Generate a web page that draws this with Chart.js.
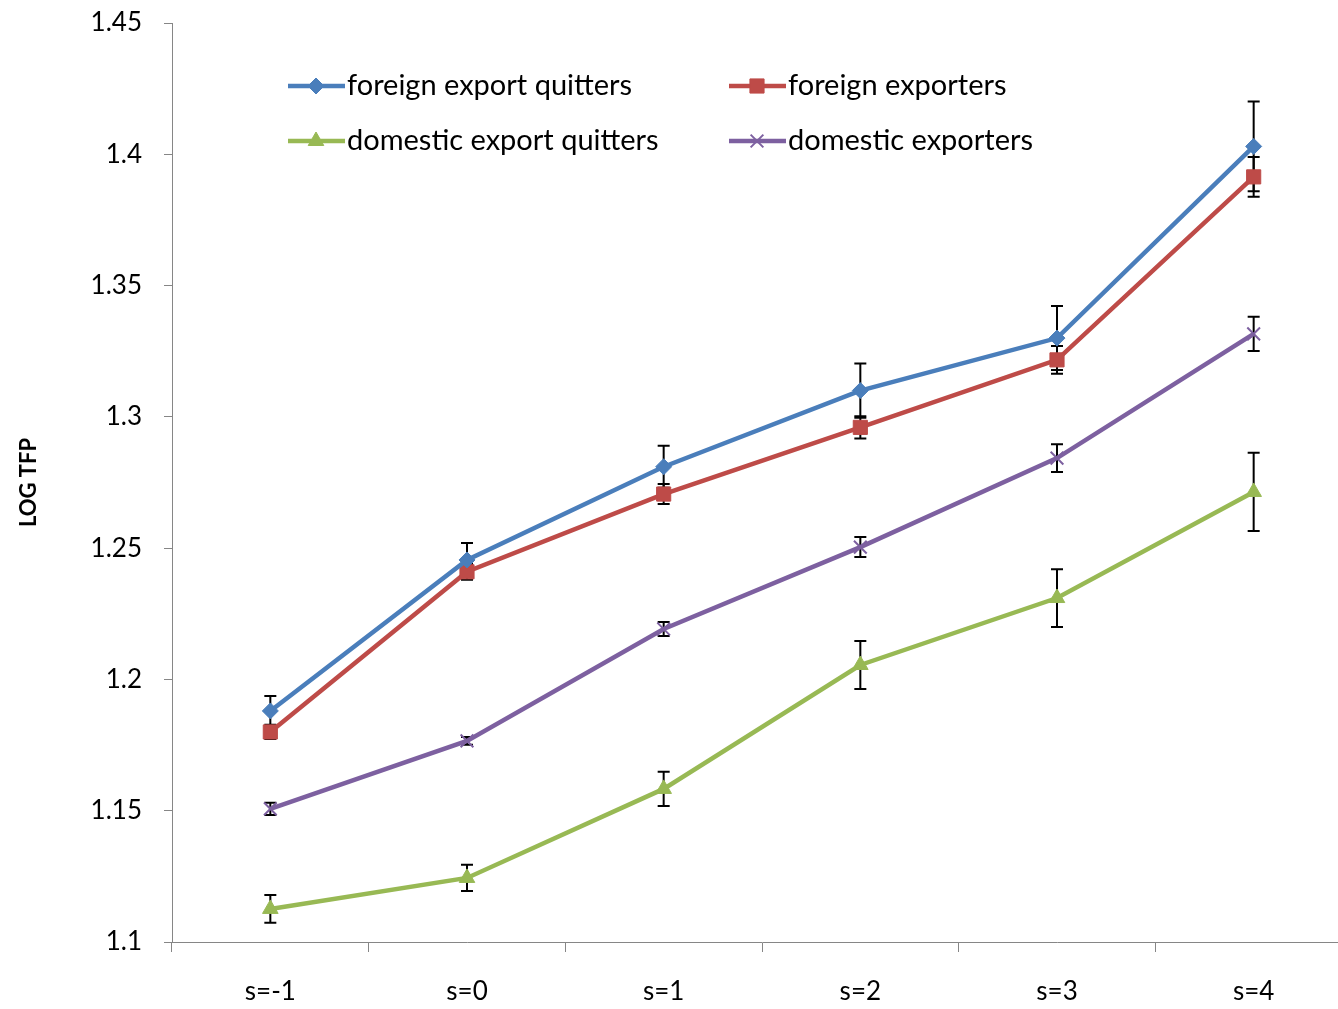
<!DOCTYPE html>
<html>
<head>
<meta charset="utf-8">
<script src="https://cdn.jsdelivr.net/npm/chart.js@4.4.0/dist/chart.umd.min.js"></script>
<style>
  html, body { margin: 0; padding: 0; background: #fff; overflow: hidden; }
  #wrap { width: 1338px; height: 1009px; overflow: hidden; }
  #myChart { display: block; }
</style>
</head>
<body>
<div id="wrap"><canvas id="myChart" width="1352" height="1009"></canvas></div>
<script>
// categories and values
var periods = ["s=-1", "s=0", "s=1", "s=2", "s=3", "s=4"];

var foreignQuitters = [1.188, 1.2455, 1.281, 1.310, 1.330, 1.403];
var foreignQuittersErr = [0.0057, 0.0065, 0.008, 0.0103, 0.0122, 0.0171];

var foreignExporters = [1.180, 1.241, 1.2706, 1.296, 1.3217, 1.3914];
var foreignExportersErr = [0.0027, 0.003, 0.0038, 0.0042, 0.0053, 0.0076];

var domesticQuitters = [1.1126, 1.1244, 1.1583, 1.2055, 1.231, 1.2714];
var domesticQuittersErr = [0.0053, 0.005, 0.0065, 0.0091, 0.011, 0.0149];

var domesticExporters = [1.1507, 1.1766, 1.2192, 1.2504, 1.2843, 1.3316];
var domesticExportersErr = [0.0023, 0.0015, 0.0027, 0.0038, 0.0053, 0.0065];

var yTicks = [1.1, 1.15, 1.2, 1.25, 1.3, 1.35, 1.4, 1.45];

var FONT = "Lato, 'Liberation Sans', sans-serif";

// draws the black error bars through the scales
var errorBars = {
    id: "errorBars",
    beforeDatasetsDraw: function (chart) {
        var ctx = chart.ctx;
        var yScale = chart.scales.y;
        ctx.save();
        ctx.strokeStyle = "#000";
        ctx.lineWidth = 2;
        chart.data.datasets.forEach(function (ds, i) {
            var meta = chart.getDatasetMeta(i);
            meta.data.forEach(function (pt, j) {
                var x = pt.x;
                var hi = yScale.getPixelForValue(ds.data[j] + ds.err[j]);
                var lo = yScale.getPixelForValue(ds.data[j] - ds.err[j]);
                ctx.beginPath();
                ctx.moveTo(x, hi); ctx.lineTo(x, lo);
                ctx.moveTo(x - 6, hi); ctx.lineTo(x + 6, hi);
                ctx.moveTo(x - 6, lo); ctx.lineTo(x + 6, lo);
                ctx.stroke();
            });
        });
        ctx.restore();
    }
};

// legend inside the plot, two columns
var innerLegend = {
    id: "innerLegend",
    afterDraw: function (chart) {
        var ctx = chart.ctx;
        var spots = [[288, 86], [729, 86], [288, 141], [729, 141]];
        ctx.save();
        chart.data.datasets.forEach(function (ds, i) {
            var x = spots[i][0], y = spots[i][1];
            ctx.strokeStyle = ds.borderColor;
            ctx.fillStyle = ds.borderColor;
            ctx.lineWidth = 4.5;
            ctx.beginPath();
            ctx.moveTo(x, y); ctx.lineTo(x + 57, y);
            ctx.stroke();
            ctx.lineWidth = ds.pointBorderWidth;
            Chart.helpers.drawPoint(ctx, {
                pointStyle: ds.pointStyle,
                radius: ds.pointRadius,
                borderWidth: ds.pointBorderWidth
            }, x + 28, y);
            ctx.fillStyle = "#000";
            ctx.font = "29px " + FONT;
            ctx.textBaseline = "middle";
            ctx.fillText(ds.label, x + 59, y);
        });
        ctx.restore();
    }
};

function makeSet(label, data, err, color, style, radius) {
    return {
        label: label,
        data: data,
        err: err,
        borderColor: color,
        backgroundColor: color,
        pointBackgroundColor: color,
        pointBorderColor: color,
        borderWidth: 4.5,
        pointStyle: style,
        pointRadius: radius,
        pointBorderWidth: style === "crossRot" ? 2 : 1,
        tension: 0
    };
}

var ctx = document.getElementById("myChart").getContext("2d");
window.myChart = new Chart(ctx, {
    type: "line",
    data: {
        labels: periods,
        datasets: [
            makeSet("foreign export quitters", foreignQuitters, foreignQuittersErr, "#4a7ebb", "rectRot", 8),
            makeSet("foreign exporters", foreignExporters, foreignExportersErr, "#be4b48", "rect", 10),
            makeSet("domestic export quitters", domesticQuitters, domesticQuittersErr, "#98b954", "triangle", 9),
            makeSet("domestic exporters", domesticExporters, domesticExportersErr, "#7d60a0", "crossRot", 9)
        ]
    },
    options: {
        responsive: false,
        animation: false,
        layout: { autoPadding: false, padding: { top: 23, right: 0, left: 0, bottom: 0 } },
        plugins: { legend: { display: false }, tooltip: { enabled: false } },
        scales: {
            x: {
                offset: true,
                grid: { drawOnChartArea: false, offset: true, tickLength: 10, color: "#868686", tickWidth: 1 },
                border: { color: "#868686", width: 1 },
                ticks: { color: "#000", font: { size: 26, family: FONT }, padding: 24 },
                afterFit: function (s) {
                    s.height = 67;
                    s.paddingLeft = 0; s.paddingRight = 0; s.paddingTop = 0; s.paddingBottom = 0;
                }
            },
            y: {
                min: 1.1,
                max: 1.45,
                afterBuildTicks: function (s) {
                    s.ticks = yTicks.map(function (v) { return { value: v }; });
                },
                grid: { drawOnChartArea: false, tickLength: 8, color: "#868686" },
                border: { color: "#868686", width: 1 },
                ticks: {
                    color: "#000",
                    font: { size: 26, family: FONT },
                    padding: 22,
                    callback: function (v) { return String(parseFloat(v.toFixed(2))); }
                },
                title: {
                    display: true,
                    text: "LOG TFP",
                    color: "#000",
                    font: { size: 22, weight: "bold", family: FONT },
                    padding: { top: 16, bottom: 0 }
                },
                afterFit: function (s) {
                    s.width = 172;
                    s.paddingLeft = 0; s.paddingRight = 0; s.paddingTop = 0; s.paddingBottom = 0;
                }
            }
        }
    },
    plugins: [errorBars, innerLegend]
});
</script>
</body>
</html>
